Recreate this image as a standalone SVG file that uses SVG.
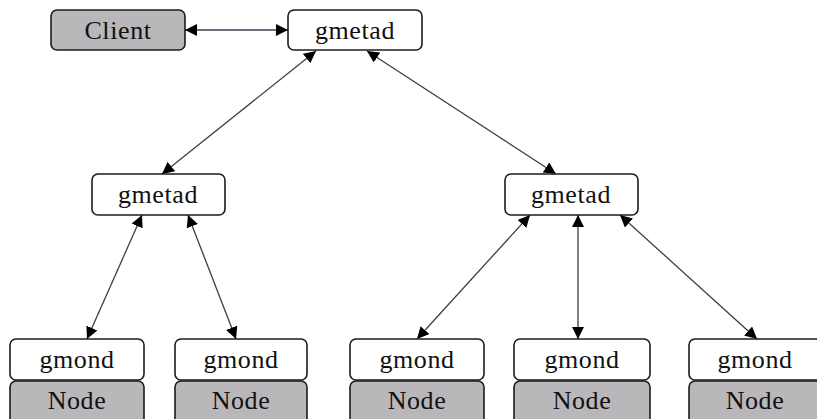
<svg xmlns="http://www.w3.org/2000/svg" width="817" height="419" viewBox="0 0 817 419">
  <style>
    .box { fill: #ffffff; stroke: #1c1c1c; stroke-width: 1.6; }
    .shade { fill: #b9b7b9; stroke: #1c1c1c; stroke-width: 1.6; }
    .label { font-family: "Liberation Serif", "Times New Roman", serif; font-size: 26px; letter-spacing: 0.6px; fill: #111; text-anchor: middle; }
    .link { stroke: #46384f; stroke-width: 1.3; fill: none; marker-start: url(#head); marker-end: url(#head); }
  </style>
  <defs>
    <marker id="head" viewBox="0 0 12 12" refX="12" refY="6" markerWidth="12" markerHeight="12" markerUnits="userSpaceOnUse" orient="auto-start-reverse">
      <path d="M0,0 L12,6 L0,12 z" fill="#000"/>
    </marker>
  </defs>

  <rect width="817" height="419" fill="#ffffff"/>

  <g id="connectors">
    <line class="link" x1="185" y1="30" x2="288" y2="30"/>
    <line class="link" x1="316" y1="51" x2="162" y2="174"/>
    <line class="link" x1="367" y1="51" x2="556" y2="174"/>
    <line class="link" x1="142" y1="215" x2="87" y2="339"/>
    <line class="link" x1="188" y1="215" x2="236" y2="339"/>
    <line class="link" x1="530" y1="215" x2="417" y2="339"/>
    <line class="link" x1="578" y1="215" x2="578" y2="339"/>
    <line class="link" x1="620" y1="215" x2="757" y2="339"/>
  </g>

  <g id="client">
    <rect class="shade" x="51" y="10" width="134" height="40" rx="6"/>
    <text class="label" x="118" y="39">Client</text>
  </g>

  <g id="gmetad-root">
    <rect class="box" x="288" y="10" width="134" height="40" rx="6"/>
    <text class="label" x="355" y="39">gmetad</text>
  </g>

  <g id="gmetad-left">
    <rect class="box" x="92" y="174" width="133" height="41" rx="6"/>
    <text class="label" x="158" y="203">gmetad</text>
  </g>

  <g id="gmetad-right">
    <rect class="box" x="505" y="174" width="133" height="41" rx="6"/>
    <text class="label" x="571" y="203">gmetad</text>
  </g>

  <g id="host-1">
    <rect class="box" x="10" y="339" width="134" height="41" rx="6"/>
    <text class="label" x="77" y="368">gmond</text>
    <rect class="shade" x="10" y="381" width="134" height="46" rx="6"/>
    <text class="label" x="77" y="409">Node</text>
  </g>

  <g id="host-2">
    <rect class="box" x="175" y="339" width="132" height="41" rx="6"/>
    <text class="label" x="241" y="368">gmond</text>
    <rect class="shade" x="175" y="381" width="132" height="46" rx="6"/>
    <text class="label" x="241" y="409">Node</text>
  </g>

  <g id="host-3">
    <rect class="box" x="350" y="339" width="134" height="41" rx="6"/>
    <text class="label" x="417" y="368">gmond</text>
    <rect class="shade" x="350" y="381" width="134" height="46" rx="6"/>
    <text class="label" x="417" y="409">Node</text>
  </g>

  <g id="host-4">
    <rect class="box" x="514" y="339" width="136" height="41" rx="6"/>
    <text class="label" x="582" y="368">gmond</text>
    <rect class="shade" x="514" y="381" width="136" height="46" rx="6"/>
    <text class="label" x="582" y="409">Node</text>
  </g>

  <g id="host-5">
    <rect class="box" x="689" y="339" width="140" height="41" rx="6"/>
    <text class="label" x="755" y="368">gmond</text>
    <rect class="shade" x="689" y="381" width="140" height="46" rx="6"/>
    <text class="label" x="755" y="409">Node</text>
  </g>
</svg>
